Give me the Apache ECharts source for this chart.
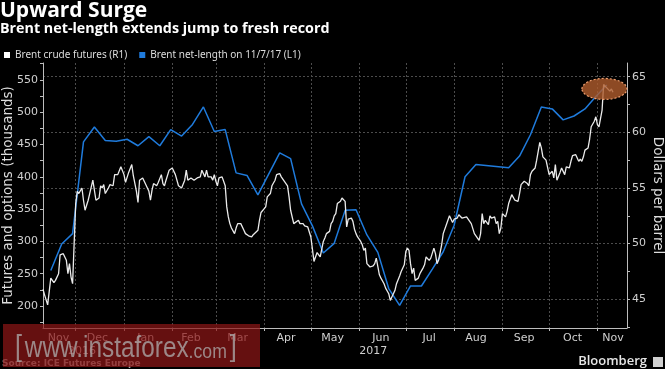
<!DOCTYPE html>
<html><head><meta charset="utf-8">
<script src="https://cdn.jsdelivr.net/npm/echarts@6/dist/echarts.min.js"></script>
<style>html,body{margin:0;padding:0;background:#000;}#c{width:665px;height:369px;}</style>
</head><body><div id="c"></div>
<script>
const titleText = 'Upward Surge';
const subtitleText = 'Brent net-length extends jump to fresh record';
const legendNames = ['Brent crude futures (R1)', 'Brent net-length on 11/7/17 (L1)'];
const leftAxisName = 'Futures and options (thousands)';
const rightAxisName = 'Dollars per barrel';
const sourceText = 'Source: ICE Futures Europe';

const brentDates = [
'2016-11-10','2016-11-11','2016-11-13','2016-11-14','2016-11-15','2016-11-17','2016-11-18','2016-11-20','2016-11-21','2016-11-23','2016-11-24','2016-11-25','2016-11-26','2016-11-27','2016-11-28','2016-11-29','2016-11-30',
'2016-12-01','2016-12-02','2016-12-03','2016-12-05','2016-12-06','2016-12-07','2016-12-09','2016-12-10','2016-12-12','2016-12-13','2016-12-14','2016-12-16','2016-12-17','2016-12-18','2016-12-19','2016-12-20','2016-12-22','2016-12-23','2016-12-25','2016-12-26','2016-12-27','2016-12-28','2016-12-30','2016-12-31',
'2017-01-01','2017-01-02','2017-01-04','2017-01-06','2017-01-07','2017-01-09','2017-01-10','2017-01-11','2017-01-13','2017-01-14','2017-01-15','2017-01-17','2017-01-18','2017-01-19','2017-01-20','2017-01-21','2017-01-22','2017-01-23','2017-01-25','2017-01-26','2017-01-27','2017-01-28','2017-01-30',
'2017-02-01','2017-02-02','2017-02-03','2017-02-05','2017-02-07','2017-02-09','2017-02-10','2017-02-11','2017-02-13','2017-02-15','2017-02-17','2017-02-19','2017-02-20','2017-02-22','2017-02-23','2017-02-24','2017-02-26','2017-02-27','2017-02-28',
'2017-03-01','2017-03-02','2017-03-03','2017-03-05','2017-03-06','2017-03-07','2017-03-08','2017-03-09','2017-03-10','2017-03-11','2017-03-12','2017-03-13','2017-03-14','2017-03-15','2017-03-17','2017-03-18','2017-03-19','2017-03-20','2017-03-22','2017-03-24','2017-03-25','2017-03-26','2017-03-28','2017-03-29','2017-03-30','2017-03-31',
'2017-04-02','2017-04-03','2017-04-05','2017-04-06','2017-04-08','2017-04-09','2017-04-11','2017-04-12','2017-04-13','2017-04-15','2017-04-16','2017-04-17','2017-04-18','2017-04-19','2017-04-20','2017-04-21','2017-04-23','2017-04-24','2017-04-26','2017-04-27','2017-04-29','2017-04-30',
'2017-05-01','2017-05-02','2017-05-03','2017-05-05','2017-05-06','2017-05-07','2017-05-09','2017-05-10','2017-05-11','2017-05-13','2017-05-14','2017-05-15','2017-05-16','2017-05-17','2017-05-18','2017-05-20','2017-05-21','2017-05-22','2017-05-23','2017-05-24','2017-05-25','2017-05-27','2017-05-28','2017-05-29','2017-05-30','2017-05-31',
'2017-06-02','2017-06-03','2017-06-04','2017-06-05','2017-06-06','2017-06-08','2017-06-10','2017-06-11','2017-06-12','2017-06-14','2017-06-15','2017-06-16','2017-06-17','2017-06-18','2017-06-20','2017-06-21','2017-06-22','2017-06-24','2017-06-25','2017-06-27','2017-06-28','2017-06-30',
'2017-07-01','2017-07-02','2017-07-03','2017-07-04','2017-07-05','2017-07-06','2017-07-07','2017-07-09','2017-07-10','2017-07-12','2017-07-13','2017-07-14','2017-07-16','2017-07-17','2017-07-19','2017-07-20','2017-07-21','2017-07-22','2017-07-24','2017-07-25','2017-07-27','2017-07-29','2017-07-31',
'2017-08-01','2017-08-03','2017-08-04','2017-08-06','2017-08-07','2017-08-09','2017-08-11','2017-08-12','2017-08-14','2017-08-15','2017-08-17','2017-08-18','2017-08-19','2017-08-20','2017-08-21','2017-08-23','2017-08-24','2017-08-25','2017-08-27','2017-08-28','2017-08-29','2017-08-30','2017-08-31',
'2017-09-01','2017-09-03','2017-09-04','2017-09-05','2017-09-07','2017-09-08','2017-09-09','2017-09-11','2017-09-12','2017-09-13','2017-09-15','2017-09-17','2017-09-18','2017-09-19','2017-09-20','2017-09-21','2017-09-22','2017-09-23','2017-09-25','2017-09-26','2017-09-27','2017-09-28','2017-09-29','2017-09-30',
'2017-10-01','2017-10-03','2017-10-04','2017-10-05','2017-10-06','2017-10-08','2017-10-09','2017-10-11','2017-10-12','2017-10-14','2017-10-15','2017-10-16','2017-10-18','2017-10-19','2017-10-20','2017-10-21','2017-10-22','2017-10-23','2017-10-24','2017-10-26','2017-10-27','2017-10-28','2017-10-30','2017-10-31',
'2017-11-01','2017-11-02','2017-11-04','2017-11-05','2017-11-07','2017-11-08','2017-11-09','2017-11-10','2017-11-11'
];
const brentValues = [
45.9,45.4,44.5,44.4,46.9,46.5,46.7,47.3,49.0,49.1,49.0,48.5,47.3,48.2,47.0,46.4,50.0,
53.6,54.7,54.5,55.0,53.9,53.0,53.9,54.5,55.7,55.7,53.9,54.1,55.2,55.0,55.3,54.5,55.0,55.3,55.2,56.2,56.2,56.2,56.9,56.9,
56.2,55.5,56.4,57.1,56.1,54.7,53.7,55.7,55.9,55.6,55.7,54.7,53.9,54.8,55.4,55.4,55.2,55.5,56.2,55.4,55.2,55.7,56.6,
56.8,56.8,56.2,55.2,55.0,55.7,56.6,55.7,55.9,55.7,55.9,56.0,56.6,56.0,56.6,56.0,56.0,55.7,56.2,
55.6,55.2,55.9,56.0,55.9,55.2,53.3,52.4,51.8,51.4,51.4,50.9,51.4,51.8,51.8,51.7,51.2,50.9,50.7,50.6,50.8,50.9,51.2,52.1,52.8,52.9,
53.3,54.2,54.5,55.2,55.7,56.2,56.3,56.0,55.9,55.4,55.2,54.2,53.0,52.9,51.8,51.7,52.1,51.8,51.8,51.6,51.5,51.4,
50.6,50.7,48.4,49.2,49.3,48.8,50.2,50.5,50.9,51.1,51.8,52.0,52.5,52.7,53.6,53.8,54.1,54.2,53.8,51.5,52.2,52.3,52.0,51.3,50.9,50.6,
50.2,49.9,49.4,49.6,48.2,47.9,48.0,48.2,48.7,47.2,46.9,47.0,46.4,46.0,45.5,44.9,45.2,45.8,46.4,47.1,47.5,48.1,
49.3,49.6,49.4,48.2,47.3,47.8,46.7,46.9,47.3,47.8,48.1,48.8,48.5,48.7,49.6,49.1,48.2,48.5,49.9,50.9,51.7,52.5,51.9,
52.2,52.3,52.6,52.3,52.4,52.4,52.0,51.8,50.9,50.8,50.3,50.9,52.7,51.8,52.1,51.7,52.5,52.3,52.4,51.8,52.0,50.9,51.4,
52.7,52.4,52.9,53.6,54.4,54.5,53.9,53.8,54.5,55.3,55.6,55.4,55.2,56.2,56.5,56.6,56.8,57.5,59.1,58.6,57.8,57.9,57.5,57.5,
56.2,56.5,55.9,57.1,55.7,56.4,56.8,56.2,56.9,56.8,57.4,57.9,58.0,58.1,57.4,57.6,57.4,57.8,58.4,58.6,59.4,60.5,61.0,61.4,
60.7,60.5,62.0,64.3,64.0,64.1,63.7,63.9,63.6
];

const netDates = ['2016-11-15','2016-11-22','2016-11-29','2016-12-06','2016-12-13','2016-12-20','2016-12-27','2017-01-03','2017-01-10','2017-01-17','2017-01-24','2017-01-31','2017-02-07','2017-02-14','2017-02-21','2017-02-28','2017-03-07','2017-03-14','2017-03-21','2017-03-28','2017-04-11','2017-04-18','2017-04-25','2017-05-02','2017-05-09','2017-05-16','2017-05-23','2017-05-30','2017-06-06','2017-06-13','2017-06-20','2017-06-27','2017-07-04','2017-07-11','2017-07-18','2017-07-25','2017-08-01','2017-08-08','2017-08-15','2017-09-05','2017-09-12','2017-09-19','2017-09-26','2017-10-03','2017-10-10','2017-10-17','2017-10-24','2017-10-31','2017-11-07'];
const netValues = [255,296,312,454,477,456,455,458,448,462,448,473,463,481,508,470,473,406,402,372,437,428,358,324,282,297,348,349,310,283,227,201,231,231,257,284,325,400,419,414,432,465,508,505,488,494,505,524,542];

const monthStartDates = ['2016-12-01','2017-01-01','2017-02-01','2017-03-01','2017-04-01','2017-05-01','2017-06-01','2017-07-01','2017-08-01','2017-09-01','2017-10-01','2017-11-01'];
const monthLabelDates = ['2016-11-20','2016-12-15','2017-01-15','2017-02-13','2017-03-15','2017-04-15','2017-05-15','2017-06-15','2017-07-16','2017-08-15','2017-09-15','2017-10-16','2017-11-11'];
const monthNames = ['Jan','Feb','Mar','Apr','May','Jun','Jul','Aug','Sep','Oct','Nov','Dec'];
const yearLabelDates = ['2016-12-05','2017-06-10'];
const leftLabelValues = [200,250,300,350,400,450,500,550];
const leftTickValues = [175,200,225,250,275,300,325,350,375,400,425,450,475,500,525,550,575];
const rightLabelValues = [45,50,55,60,65];
const rightTickValues = [42.5,45,47.5,50,52.5,55,57.5,60,62.5,65];
const xStart = '2016-11-10', xEnd = '2017-11-20';
const highlightDate = '2017-11-05', highlightValue = 63.9;

function toTs(s){const p=s.split('-').map(Number);return Date.UTC(p[0],p[1]-1,p[2]);}

const AXIS='#bdbdbd', GRID='#4c4c4c', LABEL='#cfcfcf';
const BASE='DejaVu Sans';
const chart = echarts.init(document.getElementById('c'));
chart.setOption({
  backgroundColor:'#000',
  animation:false,
  textStyle:{fontFamily:BASE},
  title:[
    {text:titleText,left:0,top:-1,padding:0,textStyle:{color:'#fff',fontSize:21,fontWeight:'bold',fontFamily:'Open Sans',lineHeight:24}},
    {text:subtitleText,left:0,top:21,padding:0,textStyle:{color:'#fff',fontSize:14.3,fontWeight:'bold',fontFamily:'Open Sans',lineHeight:16}}
  ],
  legend:{left:4,top:50,padding:0,icon:'rect',itemWidth:6,itemHeight:6,itemGap:12,
    textStyle:{color:'#ddd',fontSize:10,fontFamily:'Noto Sans'},data:[legendNames[0],legendNames[1]]},
  grid:{left:43,right:38,top:63,bottom:41,containLabel:false,outerBoundsMode:'none'},
  xAxis:[
    {type:'value',min:toTs(xStart),max:toTs(xEnd),position:'bottom',
     axisLine:{show:true,lineStyle:{color:AXIS,width:1}},
     axisTick:{show:true,customValues:monthStartDates.map(toTs),length:3,lineStyle:{color:AXIS}},
     axisLabel:{customValues:monthLabelDates.map(toTs),formatter:v=>monthNames[new Date(v).getUTCMonth()],color:LABEL,fontSize:11,margin:5,fontFamily:BASE},
     splitLine:{show:true,lineStyle:{color:GRID,type:[2,2],width:1}}},
    {type:'value',min:toTs(xStart),max:toTs(xEnd),position:'bottom',offset:13,
     axisLine:{show:false},axisTick:{show:false},
     axisLabel:{customValues:yearLabelDates.map(toTs),formatter:v=>String(new Date(v).getUTCFullYear()),color:LABEL,fontSize:11,margin:5,fontFamily:BASE},
     splitLine:{show:false}}
  ],
  yAxis:[
    {type:'value',position:'left',min:166,max:576,
     axisLine:{show:true,lineStyle:{color:AXIS}},
     axisTick:{show:true,customValues:leftTickValues,length:3,lineStyle:{color:AXIS}},
     axisLabel:{customValues:leftLabelValues,color:LABEL,fontSize:11,margin:5,fontFamily:BASE},
     splitLine:{show:false},
     name:leftAxisName,nameLocation:'middle',nameGap:28,nameRotate:90,nameMoveOverlap:false,
     nameTextStyle:{color:'#ddd',fontSize:13.5,fontFamily:BASE}},
    {type:'value',position:'right',min:42.42,max:66.23,
     axisLine:{show:true,lineStyle:{color:AXIS}},
     axisTick:{show:true,customValues:rightTickValues,length:3,lineStyle:{color:AXIS}},
     axisLabel:{customValues:rightLabelValues,color:LABEL,fontSize:11,margin:5,fontFamily:BASE},
     splitLine:{show:false},
     name:rightAxisName,nameLocation:'middle',nameGap:23,nameRotate:-90,nameMoveOverlap:false,
     nameTextStyle:{color:'#ddd',fontSize:13.5,fontFamily:BASE}},
    {type:'value',position:'right',min:42.42,max:66.23,
     axisLine:{show:false},axisTick:{show:false,customValues:rightLabelValues},axisLabel:{show:false},
     splitLine:{show:true,lineStyle:{color:GRID,type:[2,2],width:1}}}
  ],
  series:[
    {name:legendNames[1],type:'line',xAxisIndex:0,yAxisIndex:0,symbol:'none',showSymbol:false,
     data:netDates.map((d,i)=>[toTs(d),netValues[i]]),
     lineStyle:{color:'#1f7bdc',width:1.5},itemStyle:{color:'#1f7bdc'},z:2},
    {name:legendNames[0],type:'line',xAxisIndex:0,yAxisIndex:1,symbol:'none',showSymbol:false,
     data:brentDates.map((d,i)=>[toTs(d),brentValues[i]]),
     lineStyle:{color:'#ebebeb',width:1.3},itemStyle:{color:'#ffffff'},z:3}
  ]
});

const hl = chart.convertToPixel({seriesIndex:1},[toTs(highlightDate)+43200000, highlightValue]);
const wmFill = 'rgba(175,175,175,0.75)';
chart.setOption({graphic:[
  {id:'hl',type:'ellipse',shape:{cx:hl[0],cy:hl[1],rx:22.5,ry:10.5},
   style:{fill:'rgba(176,92,45,0.8)',stroke:'#f0a070',lineWidth:1.2,lineDash:[2,2]},z:50},
  {id:'src',type:'text',left:2,top:359,style:{text:sourceText,fill:'#aaaaaa',font:'bold 9px "DejaVu Sans"'},z:60},
  {id:'bb',type:'text',right:18,top:355,style:{text:'Bloomberg',fill:'#e6e6e6',font:'600 13px "Open Sans"'},z:60},
  {id:'bbicon',type:'rect',right:2,top:357,shape:{width:10,height:10},style:{fill:'#d0d0d0'},z:60},
  {id:'wmr',type:'rect',shape:{x:3,y:324,width:257,height:43},style:{fill:'rgba(140,22,22,0.72)'},z:100},
  {id:'wmt',type:'text',x:15,y:346,scaleX:0.84,style:{text:'{b|[} {w|www.instaforex}{c|.com} {b|]}',verticalAlign:'middle',
    rich:{b:{fontSize:30,fill:wmFill,fontFamily:'Liberation Sans',lineHeight:34,verticalAlign:'bottom'},
          w:{fontSize:29,fill:wmFill,fontFamily:'Liberation Sans',lineHeight:34,verticalAlign:'bottom'},
          c:{fontSize:21,fill:wmFill,fontFamily:'Liberation Sans',lineHeight:30,verticalAlign:'bottom'}}},z:101}
]});
</script></body></html>
